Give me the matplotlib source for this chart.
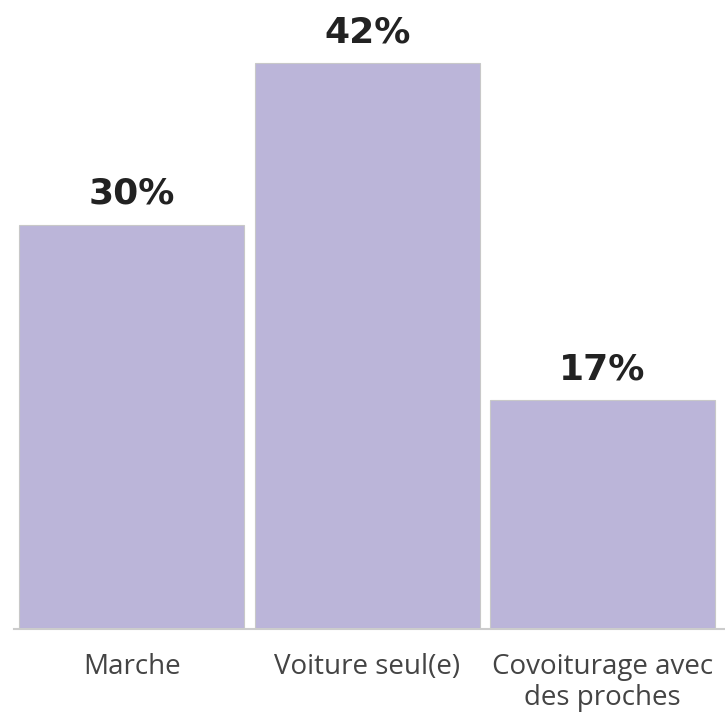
import matplotlib.pyplot as plt

categories = ["Marche", "Voiture seul(e)", "Covoiturage avec\ndes proches"]
values = [30, 42, 17]
value_labels = ["30%", "42%", "17%"]

bar_color = "#bbb5d9"
edge_color = "#c8c8c8"

fig = plt.figure(figsize=(7.25, 7.14), dpi=100)
ax = fig.add_axes([14 / 725, 85 / 714, 1 - 14 / 725, 629 / 714])

x = range(len(categories))
ax.bar(x, values, width=0.955, color=bar_color, edgecolor=edge_color, linewidth=0.8)

for xi, v, lab in zip(x, values, value_labels):
    ax.annotate(lab, (xi, v), xytext=(0, 10), textcoords="offset points",
                ha="center", va="bottom", fontsize=26, fontweight="bold",
                color="#222222", family=["DejaVu Sans"])

ax.set_xlim(-0.5, 2.52)
ax.set_ylim(0, 46.68)
ax.set_xticks(list(x))
ax.set_xticklabels(categories, fontsize=20, color="#444444",
                   family=["Open Sans", "DejaVu Sans"],
                   linespacing=1.18)
ax.tick_params(axis="x", length=0, pad=17)
ax.set_yticks([])
for s in ["top", "left", "right"]:
    ax.spines[s].set_visible(False)
ax.spines["bottom"].set_color("#cccccc")
ax.spines["bottom"].set_linewidth(1.5)

fig.savefig("out.png", dpi=100)
